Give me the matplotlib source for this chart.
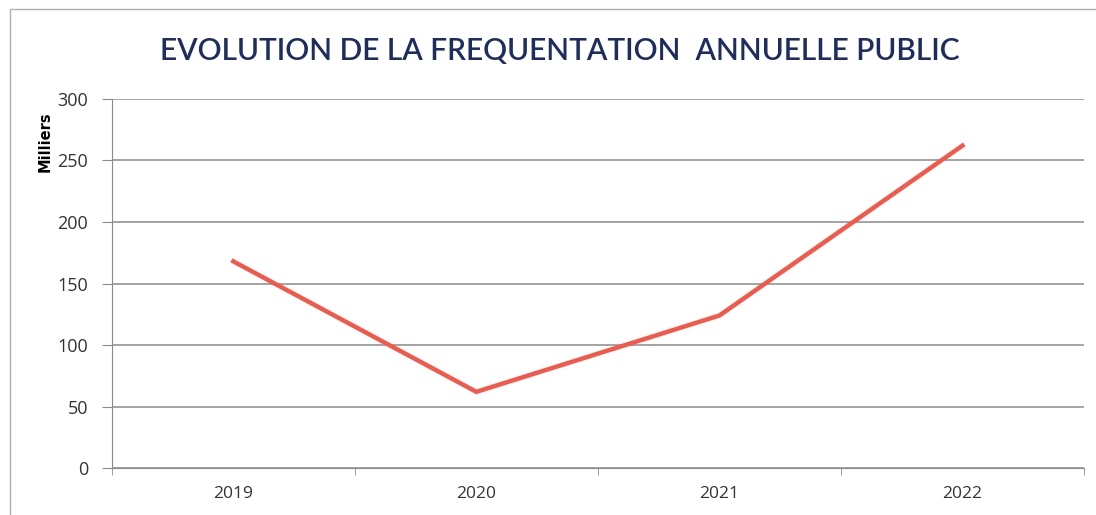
import matplotlib.pyplot as plt
import numpy as np

# Données (en milliers de visiteurs)
annees = ["2019", "2020", "2021", "2022"]
frequentation = [168, 62, 124, 262]
yticks = [0, 50, 100, 150, 200, 250, 300]

fig = plt.figure(figsize=(10.96, 5.15), dpi=100)
fig.patch.set_facecolor("white")

# cadre du graphique
fig.patches.append(plt.Rectangle((0.009, -0.01), 1.2, 0.992, transform=fig.transFigure,
                                 fill=False, edgecolor="#b0b0b0", linewidth=1.0))

ax = fig.add_axes([0.102, 0.091, 0.887, 0.717])

x = np.arange(len(annees))
ax.plot(x, frequentation, color="#f2594b", linewidth=3.2, solid_joinstyle="miter")

ax.set_xlim(-0.5, len(annees) - 0.5)
ax.set_ylim(0, 300)
ax.set_yticks(yticks)
ax.set_yticklabels([str(v) for v in yticks], fontsize=13, family="Open Sans", color="#333333")
ax.yaxis.grid(True, color="#8a8a8a", linewidth=1.1)
ax.set_axisbelow(True)

ax.set_xticks(x)
ax.set_xticklabels(annees, fontsize=12.5, family="Open Sans", color="#333333")
ax.tick_params(axis="x", length=0, pad=13)
ax.set_xticks(np.arange(-0.5, len(annees)), minor=True)
ax.tick_params(axis="x", which="minor", length=5, color="#8a8a8a", direction="out")
ax.tick_params(axis="y", length=7, color="#8a8a8a", direction="out", pad=10)

for s in ["top", "right"]:
    ax.spines[s].set_visible(False)
ax.spines["left"].set_color("#8a8a8a")
ax.spines["bottom"].set_color("#8a8a8a")

fig.text(0.041, 0.725, "Milliers", rotation=90, fontsize=10.5, fontweight="bold",
         ha="center", va="center", family="DejaVu Sans")

fig.text(0.511, 0.9, "EVOLUTION DE LA FREQUENTATION  ANNUELLE PUBLIC",
         fontsize=21.5, fontweight="semibold", color="#1c2d5e", ha="center", va="center",
         family="Lato")

fig.savefig("out.png", dpi=100)
